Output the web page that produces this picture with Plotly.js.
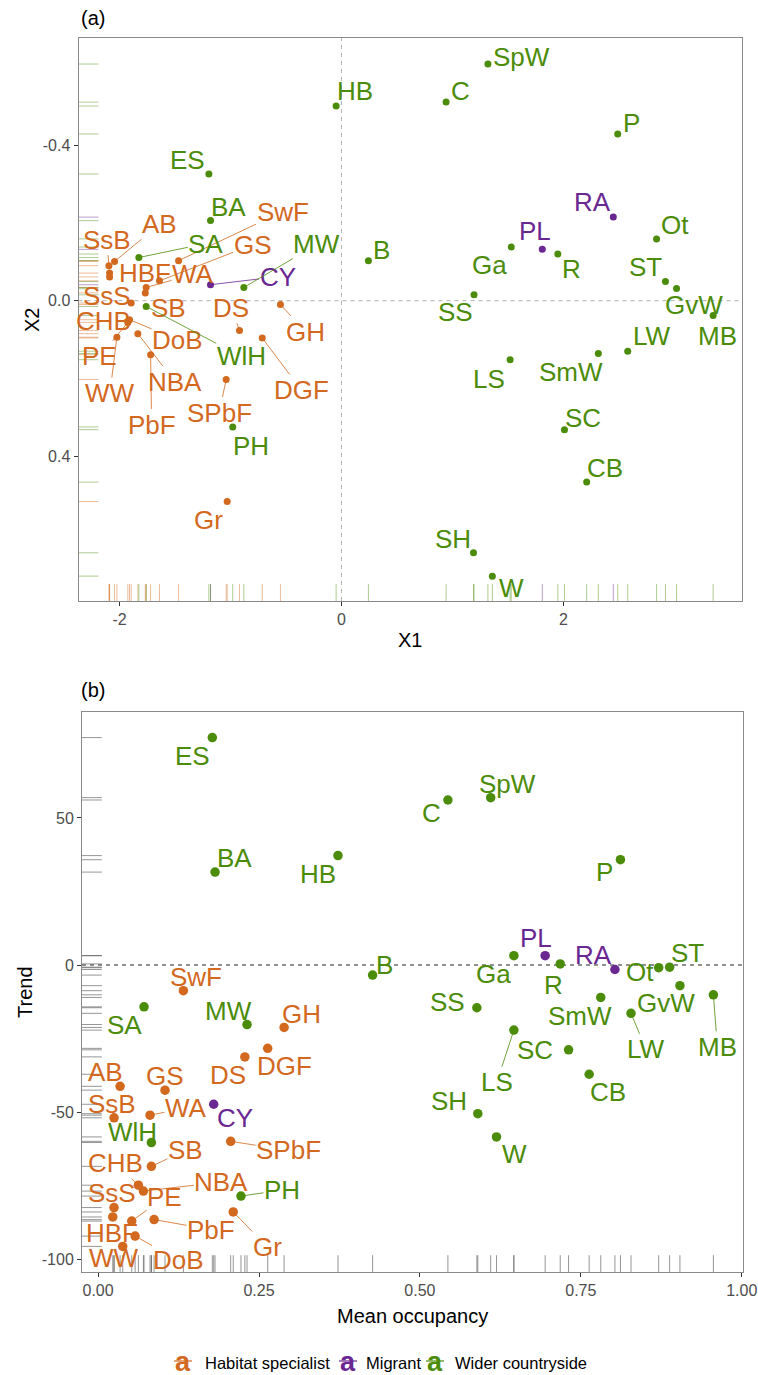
<!DOCTYPE html>
<html><head><meta charset="utf-8">
<script src="https://cdn.plot.ly/plotly-3.0.1.min.js"></script>
<style>html,body{margin:0;padding:0;background:#fff}#chart{width:758px;height:1375px}</style>
</head><body><div id="chart"></div>
<script>
// ---------------- data ----------------
const species = ["AB","SsB","HBF","SsS","SwF","GS","WA","SB","CHB","DoB","PE","NBA","WW","PbF","DS","GH","DGF","SPbF","Gr",
  "CY","RA","PL",
  "SA","MW","WlH","PH","ES","BA","HB","B","C","SpW","P","Ot","Ga","R","ST","GvW","MB","SS","LW","SmW","LS","SC","CB","SH","W"];
const group = [
  "Habitat specialist","Habitat specialist","Habitat specialist","Habitat specialist","Habitat specialist","Habitat specialist","Habitat specialist","Habitat specialist","Habitat specialist","Habitat specialist","Habitat specialist","Habitat specialist","Habitat specialist","Habitat specialist","Habitat specialist","Habitat specialist","Habitat specialist","Habitat specialist","Habitat specialist",
  "Migrant","Migrant","Migrant",
  "Wider countryside","Wider countryside","Wider countryside","Wider countryside","Wider countryside","Wider countryside","Wider countryside","Wider countryside","Wider countryside","Wider countryside","Wider countryside","Wider countryside","Wider countryside","Wider countryside","Wider countryside","Wider countryside","Wider countryside","Wider countryside","Wider countryside","Wider countryside","Wider countryside","Wider countryside","Wider countryside","Wider countryside","Wider countryside"];
const X1 = [-2.045,-2.096,-2.09,-2.09,-1.468,-1.64,-1.76,-1.768,-1.895,-1.91,-1.925,-1.835,-2.024,-1.72,-0.919,-0.55,-0.714,-1.039,-1.03,
  -1.18,2.45,1.81,
  -1.826,-0.88,-1.76,-0.98,-1.195,-1.18,-0.048,0.243,0.943,1.32,2.49,2.84,1.53,1.95,2.92,3.02,3.35,1.195,2.58,2.315,1.52,2.01,2.21,1.19,1.36];
const X2 = [-0.101,-0.090,-0.071,-0.061,-0.103,-0.051,-0.034,-0.020,0.006,0.049,0.056,0.085,0.094,0.139,0.077,0.010,0.096,0.203,0.517,
  -0.041,-0.215,-0.132,
  -0.111,-0.034,0.015,0.325,-0.326,-0.206,-0.501,-0.103,-0.511,-0.609,-0.429,-0.159,-0.138,-0.120,-0.049,-0.031,0.038,-0.015,0.130,0.136,0.152,0.332,0.467,0.649,0.709];
const occupancy = [0.0342,0.0248,0.0228,0.0248,0.1325,0.104,0.0807,0.0828,0.0626,0.0575,0.0523,0.0704,0.0383,0.087,0.228,0.289,0.2635,0.206,0.210,
  0.1796,0.803,0.6946,
  0.0714,0.2314,0.0828,0.222,0.1775,0.1817,0.3727,0.4265,0.5435,0.610,0.8116,0.871,0.646,0.718,0.888,0.904,0.956,0.5885,0.828,0.781,0.646,0.731,0.763,0.590,0.619];
const trend = [-41.2,-51.9,-85.6,-82.4,-8.7,-42.5,-51.0,-68.4,-74.8,-92.1,-87.0,-76.8,-95.6,-86.5,-31.2,-21.2,-28.3,-59.9,-83.9,
  -47.3,-1.5,3.2,
  -14.2,-20.2,-60.3,-78.5,77.3,31.6,37.2,-3.4,56.1,56.9,35.8,-0.9,3.2,0.4,-0.7,-7.0,-10.1,-14.5,-16.4,-11.0,-22.1,-28.8,-37.1,-50.5,-58.4];
const groups = ["Habitat specialist","Migrant","Wider countryside"];
const xTicksA = [-2,0,2], xTickTextA = ["-2","0","2"];
const yTicksA = [-0.4,0,0.4], yTickTextA = ["-0.4","0.0","0.4"];
const xTicksB = [0,0.25,0.5,0.75,1], xTickTextB = ["0.00","0.25","0.50","0.75","1.00"];
const yTicksB = [-100,-50,0,50], yTickTextB = ["-100","-50","0","50"];
const axisTitles = {xA:"X1", yA:"X2", xB:"Mean occupancy", yB:"Trend"};

// ---------------- label placement (pixel offsets dx, dy, draw segment) ----------------
const placeA = {AB:[45,-37,1],SsB:[-2,-26,1],HBF:[35,0,0],SsS:[-3,19,0],SwF:[104,-49,1],GS:[93,-36,1],WA:[47,-13,1],SB:[23,15,0],
  CHB:[-28,18,0],DoB:[48,20,1],PE:[-28,34,1],NBA:[37,48,1],WW:[-7,56,1],PbF:[1,70,1],DS:[-8,-23,1],GH:[25,27,1],DGF:[39,52,1],
  SPbF:[-7,33,1],Gr:[-19,18,0],CY:[67,-8,1],RA:[-21,-15,0],PL:[-7,-18,0],SA:[67,-14,1],MW:[73,-43,1],WlH:[95,50,1],PH:[18,19,0],
  ES:[-21,-14,0],BA:[18,-14,0],HB:[19,-15,0],B:[13,-11,0],C:[14,-11,0],SpW:[34,-7,0],P:[14,-11,0],Ot:[18,-14,0],Ga:[-22,18,0],
  R:[14,15,0],ST:[-20,-15,0],GvW:[17,16,0],MB:[4,21,0],SS:[-19,17,0],LW:[24,-15,0],SmW:[-27,18,0],LS:[-21,19,0],SC:[19,-12,0],
  CB:[18,-14,0],SH:[-20,-14,0],W:[19,12,0]};
const placeB = {ES:[-20,18,0],BA:[19,-14,0],HB:[-20,18,0],B:[12,-10,0],C:[-16,13,0],SpW:[17,-14,0],P:[-16,12,0],Ga:[-20,18,0],
  PL:[-9,-18,0],R:[-7,21,0],RA:[-21,-14,0],Ot:[-19,4,0],ST:[18,-14,0],GvW:[-14,17,0],MB:[4,52,1],SS:[-29,-6,0],SmW:[-21,19,0],
  LW:[15,36,1],LS:[-17,52,1],SC:[-34,0,0],CB:[19,18,0],SH:[-29,-13,0],W:[18,17,0],SwF:[13,-14,0],SA:[-20,18,0],MW:[-19,-14,0],
  GH:[17,-13,0],DGF:[17,18,0],DS:[-17,18,0],AB:[-15,-14,0],GS:[0,-14,0],WA:[36,-7,1],SsB:[-2,-14,0],CY:[21,14,0],WlH:[-19,-11,0],
  SPbF:[58,9,1],SB:[34,-16,1],CHB:[-23,-22,1],NBA:[78,-9,1],SsS:[-2,-15,0],HBF:[-1,16,0],PE:[33,-24,1],PbF:[57,10,1],Gr:[34,35,1],
  DoB:[43,24,1],WW:[-9,12,0],PH:[41,-6,1]};

// ---------------- styling ----------------
const W = 758, H = 1375;
const FONT = "Liberation Sans, Arial, sans-serif";
const colors = {"Habitat specialist":"#d2691e","Migrant":"#6a2791","Wider countryside":"#4b8c0a"};
const rugA = {"Habitat specialist":"rgba(210,105,30,0.45)","Migrant":"rgba(106,39,145,0.45)","Wider countryside":"rgba(75,140,10,0.45)"};
const px = v => v / W, py = v => 1 - v / H;

const traces = [];
groups.forEach(g => {
  const idx = species.map((s,i)=>i).filter(i => group[i] === g);
  traces.push({type:"scatter", mode:"markers", x:idx.map(i=>X1[i]), y:idx.map(i=>X2[i]), xaxis:"x", yaxis:"y",
    marker:{color:colors[g], size:7}, showlegend:false, hoverinfo:"skip"});
  traces.push({type:"scatter", mode:"markers", x:idx.map(i=>occupancy[i]), y:idx.map(i=>trend[i]), xaxis:"x2", yaxis:"y2",
    marker:{color:colors[g], size:9.5}, showlegend:false, hoverinfo:"skip"});
});

const shapes = [];
// reference lines
shapes.push({type:"line", layer:"below", xref:"x", yref:"y domain", x0:0, x1:0, y0:0, y1:1, line:{color:"#b0b0b0", width:1, dash:"4px,4px"}});
shapes.push({type:"line", layer:"below", xref:"x domain", yref:"y", x0:0, x1:1, y0:0, y1:0, line:{color:"#b0b0b0", width:1, dash:"4px,4px"}});
shapes.push({type:"line", layer:"below", xref:"x2 domain", yref:"y2", x0:0, x1:1, y0:0, y1:0, line:{color:"#222222", width:1.1, dash:"4px,4px"}});
// rugs
species.forEach((s,i) => {
  const c = rugA[group[i]];
  shapes.push({type:"line", layer:"below", xref:"x", yref:"y domain", x0:X1[i], x1:X1[i], y0:0, y1:0.03, line:{color:c, width:1}});
  shapes.push({type:"line", layer:"below", xref:"x domain", yref:"y", x0:0, x1:0.03, y0:X2[i], y1:X2[i], line:{color:c, width:1}});
  shapes.push({type:"line", layer:"below", xref:"x2", yref:"y2 domain", x0:occupancy[i], x1:occupancy[i], y0:0, y1:0.03, line:{color:"rgba(80,80,80,0.6)", width:1}});
  shapes.push({type:"line", layer:"below", xref:"x2 domain", yref:"y2", x0:0, x1:0.03, y0:trend[i], y1:trend[i], line:{color:"rgba(80,80,80,0.6)", width:1}});
});

const annotations = [];
function lab(xr, yr, x, y, s, g, p) {
  annotations.push({xref:xr, yref:yr, x:x, y:y, text:s, showarrow:true, ax:p[0], ay:p[1], axref:"pixel", ayref:"pixel",
    arrowhead:0, arrowwidth:0.8, arrowcolor: p[2] ? colors[g] : "rgba(0,0,0,0)", standoff:3, borderpad:0,
    font:{family:FONT, size:26, color:colors[g]}});
}
species.forEach((s,i) => {
  lab("x","y",X1[i],X2[i],s,group[i],placeA[s]);
  lab("x2","y2",occupancy[i],trend[i],s,group[i],placeB[s]);
});
// panel tags
annotations.push({xref:"paper", yref:"paper", x:px(79), y:py(18), text:"(a)", showarrow:false, xanchor:"left", yanchor:"middle", font:{family:FONT, size:20, color:"#000"}});
annotations.push({xref:"paper", yref:"paper", x:px(79), y:py(690), text:"(b)", showarrow:false, xanchor:"left", yanchor:"middle", font:{family:FONT, size:20, color:"#000"}});
// axis titles
const tFont = {family:FONT, size:20, color:"#000"};
annotations.push({xref:"paper", yref:"paper", x:px(410), y:py(640), text:axisTitles.xA, showarrow:false, xanchor:"center", yanchor:"middle", font:tFont});
annotations.push({xref:"paper", yref:"paper", x:px(32), y:py(320), text:axisTitles.yA, showarrow:false, textangle:-90, xanchor:"center", yanchor:"middle", font:tFont});
annotations.push({xref:"paper", yref:"paper", x:px(412), y:py(1316), text:axisTitles.xB, showarrow:false, xanchor:"center", yanchor:"middle", font:tFont});
annotations.push({xref:"paper", yref:"paper", x:px(25), y:py(992), text:axisTitles.yB, showarrow:false, textangle:-90, xanchor:"center", yanchor:"middle", font:tFont});
// legend (text-key style)
const legX = [{k:183, t:203}, {k:348, t:364}, {k:435, t:453}];
groups.forEach((g,j) => {
  shapes.push({type:"line", xref:"paper", yref:"paper", x0:px(legX[j].k-9), x1:px(legX[j].k+9), y0:py(1361), y1:py(1361), line:{color:colors[g], width:1.2}});
  annotations.push({xref:"paper", yref:"paper", x:px(legX[j].k), y:py(1362), text:"<b>a</b>", showarrow:false, xanchor:"center", yanchor:"middle", font:{family:FONT, size:27, color:colors[g]}});
  annotations.push({xref:"paper", yref:"paper", x:px(legX[j].t), y:py(1363), text:g, showarrow:false, xanchor:"left", yanchor:"middle", font:{family:FONT, size:16.5, color:"#000"}});
});

const axBase = {showgrid:false, zeroline:false, showline:true, mirror:true, linecolor:"#8a8a8a", linewidth:1,
  ticks:"outside", ticklen:4, tickcolor:"#333", tickwidth:1, tickfont:{family:FONT, size:16, color:"#4d4d4d"}, automargin:false};

const layout = {
  width:W, height:H, margin:{l:0,r:0,t:0,b:0}, paper_bgcolor:"#fff", plot_bgcolor:"#fff", showlegend:false,
  font:{family:FONT},
  xaxis: Object.assign({}, axBase, {domain:[px(78.5), px(742)], anchor:"y", range:[-2.37,3.61], tickmode:"array", tickvals:xTicksA, ticktext:xTickTextA}),
  yaxis: Object.assign({}, axBase, {domain:[py(601), py(38)], anchor:"x", range:[0.773,-0.676], tickmode:"array", tickvals:yTicksA, ticktext:yTickTextA}),
  xaxis2: Object.assign({}, axBase, {domain:[px(82), px(743)], anchor:"y2", range:[-0.025,1.002], tickmode:"array", tickvals:xTicksB, ticktext:xTickTextB}),
  yaxis2: Object.assign({}, axBase, {domain:[py(1272), py(712)], anchor:"x2", range:[-104.3,86], tickmode:"array", tickvals:yTicksB, ticktext:yTickTextB}),
  shapes: shapes, annotations: annotations
};
Plotly.newPlot("chart", traces, layout, {staticPlot:true, displayModeBar:false});
</script></body></html>
